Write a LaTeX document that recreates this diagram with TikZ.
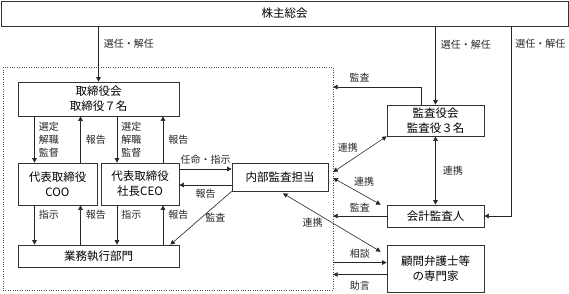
\documentclass[tikz,border=0pt]{standalone}
\usepackage{fontspec}
\setmainfont{Noto Sans CJK JP}
\usetikzlibrary{positioning,arrows.meta}

\begin{document}
\begin{tikzpicture}[
    x=1pt, y=-1pt,
    box/.style={draw=black!80, line width=0.7pt, align=center, inner sep=0pt, font=\fontsize{11.5}{15}\selectfont},
    lbl/.style={font=\fontsize{10}{13}\selectfont, inner sep=1pt, align=left},
    arr/.style={-{Triangle[length=4.5pt,width=4.5pt]}, line width=0.6pt, black!85},
    arrb/.style={{Triangle[length=4.5pt,width=4.5pt]}-{Triangle[length=4.5pt,width=4.5pt]}, line width=0.6pt, black!85}
]
\useasboundingbox (0,0) rectangle (569,293);

% company side (dotted frame) and boxes
\node[draw=black!70, dotted, minimum width=330pt, minimum height=223pt, inner sep=0pt] (area) at (168,178.5) {};
\node[box, minimum width=567pt, minimum height=25pt] (sh) at (284.5,13.5) {株主総会};
\node[box, minimum width=161pt, minimum height=34pt] (board) at (98.5,99) {取締役会\\取締役７名};
\node[box, minimum width=79pt, minimum height=42pt] (coo) at (57.5,184) {代表取締役\\COO};
\node[box, minimum width=78pt, minimum height=42pt] (ceo) at (140,184) {代表取締役\\社長CEO};
\node[box, minimum width=161pt, minimum height=22pt] (exec) at (98.5,256) {業務執行部門};
\node[box, minimum width=96pt, minimum height=28pt] (ia) at (280,177) {内部監査担当};
\node[box, minimum width=97pt, minimum height=31pt] (kab) at (435.5,120.5) {監査役会\\監査役３名};
\node[box, minimum width=97pt, minimum height=22pt] (ext) at (435.5,216) {会計監査人};
\node[box, minimum width=97pt, minimum height=47pt] (adv) at (435.5,268.5) {顧問弁護士等\\の専門家};

% shareholders
\coordinate (rx) at (511,0);
\draw[arr] (sh.south -| board.north) -- (board.north) node[lbl, pos=0.32, right=4pt] {選任・解任};
\draw[arr] (sh.south -| kab.north) -- (kab.north) node[lbl, pos=0.23, right=4pt] {選任・解任};
\draw[arr] (sh.south -| rx) |- (ext.east) node[lbl, pos=0.047, right=3pt] {選任・解任};

% board and representatives
\foreach \n in {coo,ceo}{
  \coordinate (\n-tl) at ([xshift=-23pt]\n.north);
  \coordinate (\n-tr) at ([xshift=23pt]\n.north);
  \coordinate (\n-bl) at ([xshift=-23pt]\n.south);
  \coordinate (\n-br) at ([xshift=23pt]\n.south);
  \draw[arr] (board.south -| \n-tl) -- (\n-tl) node[lbl, midway, right=3pt] {選定\\解職\\監督};
  \draw[arr] (\n-tr) -- (board.south -| \n-tr) node[lbl, midway, right=4pt] {報告};
  \draw[arr] (\n-bl) -- (exec.north -| \n-bl) node[lbl, pos=0.25, right=3pt] {指示};
  \draw[arr] (exec.north -| \n-br) -- (\n-br) node[lbl, pos=0.75, right=4pt] {報告};
}

% internal audit
\coordinate (ia-in) at ([yshift=8pt]ia.west);
\coordinate (ia-out) at ([yshift=-8pt]ia.west);
\draw[arr] (ceo.east |- ia-in) -- (ia-in) node[lbl, midway, above=3pt] {任命・指示};
\draw[arr] (ia-out) -- (ceo.east |- ia-out) node[lbl, midway, below=3pt] {報告};
\draw[arr] (ia.south west) -- ([xshift=-9pt]exec.north east) node[lbl, midway, right=3pt] {監査};

% auditors
\coordinate (ka) at (421,87);
\coordinate (lk1) at ([yshift=5pt]ia.east);
\coordinate (lk2) at ([yshift=-1pt]ia.east);
\draw[arr] (kab.north -| ka) |- (area.east |- ka) node[lbl, pos=0.85, above=4pt] {監査};
\draw[arrb] (area.east |- lk1) -- (kab.south west) node[lbl, midway, above left=1pt] {連携};
\draw[arrb] (area.east |- lk2) -- ([xshift=-6pt]ext.north west) node[lbl, pos=0.4, above right=1pt] {連携};
\draw[arrb] (kab.south) -- (ext.north) node[lbl, midway, right=6pt] {連携};
\draw[arr] (ext.west) -- (area.east |- ext.west) node[lbl, midway, above=3pt] {監査};

% advisers
\coordinate (adv-in) at ([yshift=6pt]adv.west);
\coordinate (adv-out) at ([yshift=-6pt]adv.west);
\draw[arr] (area.east |- adv-in) -- (adv-in) node[lbl, midway, above=3pt] {相談};
\draw[arr] (adv-out) -- (area.east |- adv-out) node[lbl, midway, below=5pt] {助言};
\draw[arrb] ([xshift=3pt,yshift=-2pt]ia.south) -- ([xshift=-6pt,yshift=-7pt]adv.north west) node[lbl, midway, left=8pt] {連携};

\end{tikzpicture}
\end{document}
